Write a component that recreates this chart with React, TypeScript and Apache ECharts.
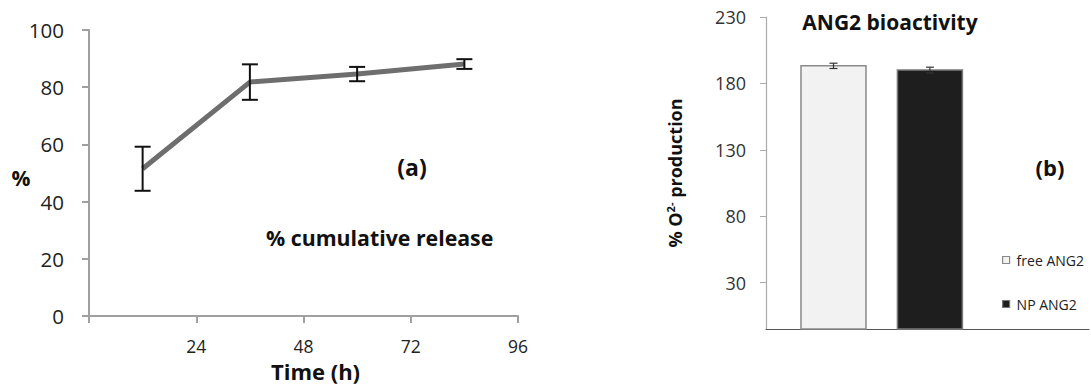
import React, { useEffect, useRef } from "react";
import * as echarts from "echarts";

// Panel (a): cumulative release
const timeHours = [12, 36, 60, 84];
const releasePct = [51.5, 81.8, 84.6, 88.1];
const releaseErr = [7.7, 6.2, 2.5, 1.7];

// Panel (b): ANG2 bioactivity
const barGroups = ["free ANG2", "NP ANG2"];
const barValues = [193.2, 190.0];
const barErrors = [2.0, 2.2];
const yTicksB = [30, 80, 130, 180, 230];

const FONT = "'Open Sans', 'DejaVu Sans', sans-serif";
const Y_MIN_B = -5;
const barFills = ["#f2f2f2", "#1e1e1e"];
const barStrokes = ["#8a8a8a", "#7a7a7a"];

export default function App() {
  const ref = useRef<HTMLDivElement>(null);
  useEffect(() => {
    if (!ref.current) return;
    const chart = echarts.init(ref.current, undefined, { renderer: "svg" });

    const barSeries = barGroups.map((name, i) => ({
      type: "custom",
      name,
      xAxisIndex: 1,
      yAxisIndex: 1,
      itemStyle: { color: barFills[i], borderColor: barStrokes[i] },
      data: [[i, barValues[i]]],
      renderItem: (params: any, api: any) => {
        const x = api.value(0);
        const v = api.value(1);
        const top = api.coord([x, v]);
        const base = api.coord([x, Y_MIN_B]);
        const w = api.size([0.674, 0])[0];
        return {
          type: "rect",
          shape: { x: top[0] - w / 2, y: top[1], width: w, height: base[1] - top[1] },
          style: { fill: barFills[i], stroke: barStrokes[i], lineWidth: 1.5 },
        };
      },
    }));

    const option: any = {
      animation: false,
      backgroundColor: "#ffffff",
      grid: [
        { left: 89, top: 30, width: 429, height: 287 },
        { left: 766, top: 17, width: 323, height: 312 },
      ],
      xAxis: [
        {
          gridIndex: 0,
          type: "value",
          min: 0,
          max: 96,
          interval: 24,
          name: "Time (h)",
          nameLocation: "middle",
          nameGap: 43,
          nameTextStyle: { fontFamily: FONT, fontWeight: "bold", fontSize: 22, color: "#111", padding: [0, 0, 0, 24] },
          axisLine: { onZero: false, lineStyle: { color: "#a0a0a0", width: 2 } },
          axisTick: { show: true, length: 7, lineStyle: { color: "#a0a0a0", width: 2 } },
          axisLabel: {
            fontFamily: FONT,
            fontSize: 17.5,
            color: "#222",
            margin: 21,
            formatter: (v: number) => (v === 0 ? "" : String(v)),
          },
          splitLine: { show: false },
        },
        {
          gridIndex: 1,
          type: "value",
          min: -0.7,
          max: 2.65,
          axisLine: { onZero: false, lineStyle: { color: "#555", width: 1.2 } },
          axisTick: { show: false },
          axisLabel: { show: false },
          splitLine: { show: false },
        },
      ],
      yAxis: [
        {
          gridIndex: 0,
          type: "value",
          min: 0,
          max: 100,
          interval: 20,
          axisLine: { show: true, onZero: false, lineStyle: { color: "#a0a0a0", width: 2 } },
          axisTick: { show: true, length: 7, lineStyle: { color: "#a0a0a0", width: 2 } },
          axisLabel: { fontFamily: FONT, fontSize: 20.5, color: "#222", margin: 25 },
          splitLine: { show: false },
        },
        {
          gridIndex: 1,
          type: "value",
          min: Y_MIN_B,
          max: 230,
          name: "{a|% O}{s|2-}{a| production}",
          nameLocation: "middle",
          nameRotate: 90,
          nameGap: 82,
          nameTextStyle: {
            rich: {
              a: { fontFamily: FONT, fontWeight: "bold", fontSize: 18, color: "#111" },
              s: { fontFamily: FONT, fontWeight: "bold", fontSize: 11, color: "#111", verticalAlign: "top", padding: [0, 0, 8, 0] },
            },
          },
          axisLine: { show: true, onZero: false, lineStyle: { color: "#aaaaaa", width: 1.2 } },
          axisTick: { show: true, length: 6, customValues: yTicksB, lineStyle: { color: "#aaaaaa" } },
          axisLabel: { fontFamily: FONT, fontSize: 18, color: "#333", margin: 20, customValues: yTicksB },
          splitLine: { show: false },
        },
      ],
      legend: {
        orient: "vertical",
        left: 997,
        top: 248,
        itemWidth: 7,
        itemHeight: 7,
        itemGap: 30,
        selectedMode: false,
        textStyle: { fontFamily: FONT, fontSize: 14, color: "#222", padding: [0, 0, 0, 2] },
        data: barGroups.map((name, i) => ({
          name,
          icon: "rect",
          itemStyle: { color: barFills[i], borderColor: barStrokes[i], borderWidth: 1.2 },
        })),
      },
      series: [
        {
          type: "line",
          xAxisIndex: 0,
          yAxisIndex: 0,
          data: timeHours.map((t, i) => [t, releasePct[i]]),
          symbol: "none",
          lineStyle: { color: "#6e6e6e", width: 5 },
          z: 2,
        },
        {
          type: "custom",
          xAxisIndex: 0,
          yAxisIndex: 0,
          data: timeHours.map((t, i) => [t, releasePct[i], releaseErr[i]]),
          z: 3,
          renderItem: (params: any, api: any) => {
            const x = api.value(0);
            const v = api.value(1);
            const e = api.value(2);
            const hi = api.coord([x, v + e]);
            const lo = api.coord([x, v - e]);
            const hw = 8;
            const st = { stroke: "#111", lineWidth: 2 };
            return {
              type: "group",
              children: [
                { type: "line", shape: { x1: hi[0], y1: hi[1], x2: lo[0], y2: lo[1] }, style: st },
                { type: "line", shape: { x1: hi[0] - hw, y1: hi[1], x2: hi[0] + hw, y2: hi[1] }, style: st },
                { type: "line", shape: { x1: lo[0] - hw, y1: lo[1], x2: lo[0] + hw, y2: lo[1] }, style: st },
              ],
            };
          },
        },
        ...barSeries,
        {
          type: "custom",
          xAxisIndex: 1,
          yAxisIndex: 1,
          data: barGroups.map((_, i) => [i, barValues[i], barErrors[i]]),
          z: 4,
          renderItem: (params: any, api: any) => {
            const x = api.value(0);
            const v = api.value(1);
            const e = api.value(2);
            const hi = api.coord([x, v + e]);
            const lo = api.coord([x, v - e]);
            const hw = 4;
            const st = { stroke: "#333", lineWidth: 1.2 };
            return {
              type: "group",
              children: [
                { type: "line", shape: { x1: hi[0], y1: hi[1], x2: lo[0], y2: lo[1] }, style: st },
                { type: "line", shape: { x1: hi[0] - hw, y1: hi[1], x2: hi[0] + hw, y2: hi[1] }, style: st },
                { type: "line", shape: { x1: lo[0] - hw, y1: lo[1], x2: lo[0] + hw, y2: lo[1] }, style: st },
              ],
            };
          },
        },
      ],
      graphic: [
        { type: "text", x: 21, y: 178, style: { text: "%", fontFamily: FONT, fontWeight: "bold", fontSize: 21, fill: "#111", align: "center", verticalAlign: "middle" } },
        { type: "text", x: 412, y: 167, style: { text: "(a)", fontFamily: FONT, fontWeight: "bold", fontSize: 23, fill: "#111", align: "center", verticalAlign: "middle" } },
        { type: "text", x: 266, y: 237, style: { text: "% cumulative release", fontFamily: FONT, fontWeight: "bold", fontSize: 21.3, fill: "#111", align: "left", verticalAlign: "middle" } },
        { type: "text", x: 890, y: 22, style: { text: "ANG2 bioactivity", fontFamily: FONT, fontWeight: "bold", fontSize: 21, fill: "#111", align: "center", verticalAlign: "middle" } },
        { type: "text", x: 1050, y: 167, style: { text: "(b)", fontFamily: FONT, fontWeight: "bold", fontSize: 22, fill: "#111", align: "center", verticalAlign: "middle" } },
      ],
    };
    chart.setOption(option);
    return () => chart.dispose();
  }, []);
  return (
    <div
      ref={ref}
      style={{ position: "fixed", left: 0, top: 0, width: 1091, height: 387, background: "#fff" }}
    />
  );
}
